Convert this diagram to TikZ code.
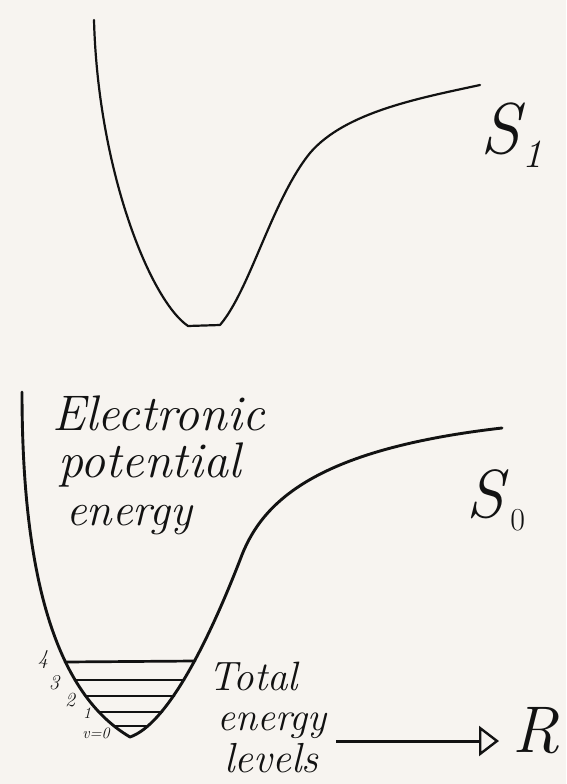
\documentclass[tikz,border=0pt]{standalone}
\usepackage{fontspec}
\usetikzlibrary{arrows.meta}
\definecolor{paper}{RGB}{247,244,240}
\definecolor{ink}{RGB}{18,18,18}
\tikzset{
  curve/.style={draw=ink, line width=2.2pt, line cap=round, line join=round},
  thickcurve/.style={draw=ink, line width=2.9pt, line cap=round, line join=round},
  levelline/.style={draw=ink, line width=2.7pt, line cap=round},
  hand/.style={inner sep=0pt, outer sep=0pt, text=ink, font=\itshape},
  axisarrow/.style={draw=ink, line width=3pt,
    -{Triangle[open, length=20pt, width=30pt, line width=2.4pt]}},
}
\newcommand{\fs}[1]{\fontsize{#1}{#1}\selectfont}
\begin{document}
\begin{tikzpicture}[x=1pt,y=-1pt]
  \fill[paper] (0,0) rectangle (566,784);
  \useasboundingbox (0,0) rectangle (566,784);

  % S1 curve
  \draw[curve] (94,20) .. controls (98,170) and (150,300) .. (188,326)
    -- (220,325)
    .. controls (250,290) and (272,200) .. (310,153)
    .. controls (345,112) and (420,98) .. (480,85);

  % S0 curve
  \draw[thickcurve] (22,392) .. controls (22,560) and (50,690) .. (130,737)
    .. controls (165,725) and (205,650) .. (240,560)
    .. controls (260,505) and (310,450) .. (502,428);

  % vibrational levels
  \draw[levelline] (65,662) -- (195,661);
  \draw[levelline] (75,680) -- (184,680);
  \draw[levelline] (86,696) -- (174,696);
  \draw[levelline] (99,712) -- (162,712);
  \draw[levelline] (115,726) -- (146,726);

  % level labels
  \node[hand, font=\itshape\fs{21}] (l4) at (43,660) {4};
  \node[hand, font=\itshape\fs{21}] (l3) at (54,683) {3};
  \node[hand, font=\itshape\fs{20}] (l2) at (70,700) {2};
  \node[hand, font=\itshape\fs{16}] (l1) at (87,713) {1};
  \node[hand, font=\itshape\fs{16}] (l0) at (96,733) {v=0};

  % axis label text
  \node[hand, anchor=base west, font=\itshape\fs{50}] (t1) at (52,430) {Electronic};
  \node[hand, anchor=base west, font=\itshape\fs{50}] (t2) at (58,477) {potential};
  \node[hand, anchor=base west, font=\itshape\fs{46}] (t3) at (66,525) {energy};

  \node[hand, anchor=base west, font=\itshape\fs{41}] (u1) at (208,690) {Total};
  \node[hand, anchor=base west, font=\itshape\fs{40}] (u2) at (217,730) {energy};
  \node[hand, anchor=base west, font=\itshape\fs{42}] (u3) at (224,772) {levels};

  % state labels
  \node[hand, anchor=base west, font=\itshape\fs{72}] (s1) at (480,153)
    {S\hspace{3pt}\raisebox{-14pt}{\fs{40}1}};
  \node[hand, anchor=base west, font=\itshape\fs{68}] (s0) at (466,517)
    {S\hspace{7pt}\raisebox{-13pt}{\upshape\fs{32}0}};

  % R axis
  \coordinate (ra) at (336,741);
  \coordinate (rb) at (499,741);
  \draw[axisarrow] (ra) -- (rb);
  \node[hand, anchor=base west, font=\itshape\fs{66}] (r) at (512,752) {R};
\end{tikzpicture}
\end{document}
